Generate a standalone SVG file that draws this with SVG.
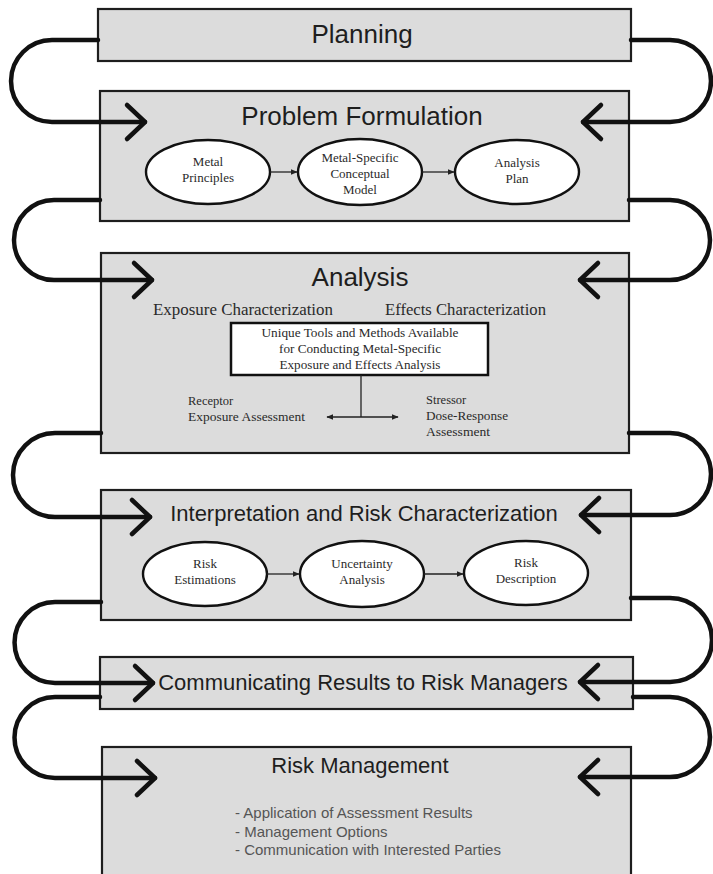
<svg xmlns="http://www.w3.org/2000/svg" width="713" height="874" viewBox="0 0 713 874">
<style>
.box{fill:#dcdcdc;stroke:#1e1e1e;stroke-width:2.2}
.title{font-family:"Liberation Sans",Arial,sans-serif;fill:#1e1e1e;text-anchor:middle}
.ser{font-family:"Liberation Serif","Times New Roman",serif;fill:#2a2a2a}
.ell{fill:#fff;stroke:#111;stroke-width:2.4}
.et{font-family:"Liberation Serif","Times New Roman",serif;font-size:13px;fill:#2a2a2a;text-anchor:middle}
.conn{fill:none;stroke:#111;stroke-width:4.5;stroke-linecap:round;stroke-linejoin:round}
.thin{fill:none;stroke:#222;stroke-width:1.3}
.bul{font-family:"Liberation Sans",Arial,sans-serif;font-size:15px;fill:#555}
</style>
<defs>
<marker id="ah" viewBox="0 0 10 10" refX="9" refY="5" markerWidth="7" markerHeight="7" markerUnits="userSpaceOnUse" orient="auto">
<path d="M0,1 L10,5 L0,9 z" fill="#222"/>
</marker>
</defs>
<rect width="713" height="874" fill="#fff"/>

<g id="planning">
<rect class="box" x="98" y="9" width="533" height="52"/>
<text class="title" x="362" y="43" font-size="26">Planning</text>
</g>

<g id="problem-formulation">
<rect class="box" x="100" y="91" width="529" height="130"/>
<text class="title" x="362" y="125" font-size="26">Problem Formulation</text>
<g id="metal-principles">
<ellipse class="ell" cx="208" cy="172" rx="62" ry="32"/>
<text class="et" x="208" y="166">Metal</text>
<text class="et" x="208" y="182">Principles</text>
</g>
<g id="conceptual-model">
<ellipse class="ell" cx="360" cy="172" rx="62" ry="33"/>
<text class="et" x="360" y="162">Metal-Specific</text>
<text class="et" x="360" y="178">Conceptual</text>
<text class="et" x="360" y="194">Model</text>
</g>
<g id="analysis-plan">
<ellipse class="ell" cx="517" cy="172" rx="62" ry="32"/>
<text class="et" x="517" y="167">Analysis</text>
<text class="et" x="517" y="183">Plan</text>
</g>
</g>

<g id="analysis">
<rect class="box" x="101" y="253" width="528" height="200"/>
<text class="title" x="360" y="286" font-size="26">Analysis</text>
<text class="ser" x="153" y="315" font-size="16" textLength="180" lengthAdjust="spacingAndGlyphs">Exposure Characterization</text>
<text class="ser" x="385" y="315" font-size="16" textLength="161" lengthAdjust="spacingAndGlyphs">Effects Characterization</text>
<g id="unique-tools">
<rect x="231" y="323" width="257" height="52" fill="#fff" stroke="#111" stroke-width="2.5"/>
<text class="ser" x="360" y="337" font-size="13" text-anchor="middle" textLength="197" lengthAdjust="spacingAndGlyphs">Unique Tools and Methods Available</text>
<text class="ser" x="360" y="353" font-size="13" text-anchor="middle" textLength="162" lengthAdjust="spacingAndGlyphs">for Conducting Metal-Specific</text>
<text class="ser" x="360" y="369" font-size="13" text-anchor="middle" textLength="161" lengthAdjust="spacingAndGlyphs">Exposure and Effects Analysis</text>
</g>
<text class="ser" x="188" y="405" font-size="12.5">Receptor</text>
<text class="ser" x="188" y="421" font-size="12.5" textLength="117" lengthAdjust="spacingAndGlyphs">Exposure Assessment</text>
<text class="ser" x="426" y="404" font-size="12.5">Stressor</text>
<text class="ser" x="426" y="420" font-size="12.5" textLength="82" lengthAdjust="spacingAndGlyphs">Dose-Response</text>
<text class="ser" x="426" y="436" font-size="12.5" textLength="64" lengthAdjust="spacingAndGlyphs">Assessment</text>
</g>

<g id="interpretation">
<rect class="box" x="101" y="490" width="530" height="130"/>
<text class="title" x="364" y="521" font-size="22">Interpretation and Risk Characterization</text>
<g id="risk-estimations">
<ellipse class="ell" cx="205" cy="574" rx="62" ry="32"/>
<text class="et" x="205" y="568">Risk</text>
<text class="et" x="205" y="584">Estimations</text>
</g>
<g id="uncertainty-analysis">
<ellipse class="ell" cx="362" cy="574" rx="62" ry="33"/>
<text class="et" x="362" y="568">Uncertainty</text>
<text class="et" x="362" y="584">Analysis</text>
</g>
<g id="risk-description">
<ellipse class="ell" cx="526" cy="573" rx="62" ry="32"/>
<text class="et" x="526" y="567">Risk</text>
<text class="et" x="526" y="583">Description</text>
</g>
</g>

<g id="communicating">
<rect class="box" x="100" y="657" width="533" height="52"/>
<text class="title" x="363" y="690" font-size="22">Communicating Results to Risk Managers</text>
</g>

<g id="risk-management">
<rect class="box" x="102" y="747" width="529" height="140"/>
<text class="title" x="360" y="773" font-size="22">Risk Management</text>
<text class="bul" x="235" y="818">- Application of Assessment Results</text>
<text class="bul" x="235" y="837">- Management Options</text>
<text class="bul" x="235" y="855">- Communication with Interested Parties</text>
</g>

<g id="connectors">
<!-- left loops -->
<path class="conn" d="M98 40 H52 A41 41 0 0 0 52 122 H145"/>
<path class="conn" d="M127 105 L145 122 L127 139"/>
<path class="conn" d="M100 200 H54 A40 40 0 0 0 54 280 H152"/>
<path class="conn" d="M134 263 L152 280 L134 297"/>
<path class="conn" d="M101 433 H55 A42 42 0 0 0 55 517 H150"/>
<path class="conn" d="M132 500 L150 517 L132 534"/>
<path class="conn" d="M101 602 H55 A40.5 40.5 0 0 0 55 683 H153"/>
<path class="conn" d="M135 666 L153 683 L135 700"/>
<path class="conn" d="M100 697 H55 A40.5 40.5 0 0 0 55 778 H155"/>
<path class="conn" d="M137 761 L155 778 L137 795"/>
<!-- right loops -->
<path class="conn" d="M631 40 H670 A41 41 0 0 1 670 122 H583"/>
<path class="conn" d="M601 105 L583 122 L601 139"/>
<path class="conn" d="M629 200 H670 A40 40 0 0 1 670 280 H580"/>
<path class="conn" d="M598 263 L580 280 L598 297"/>
<path class="conn" d="M629 433 H670 A41 41 0 0 1 670 515 H581"/>
<path class="conn" d="M599 498 L581 515 L599 532"/>
<path class="conn" d="M631 598 H670 A42 42 0 0 1 670 682 H580"/>
<path class="conn" d="M598 665 L580 682 L598 699"/>
<path class="conn" d="M633 697 H670 A40 40 0 0 1 670 777 H580"/>
<path class="conn" d="M598 760 L580 777 L598 794"/>
<!-- inner flow arrows -->
<path class="thin" d="M270 172 H297" marker-end="url(#ah)"/>
<path class="thin" d="M422 172 H454" marker-end="url(#ah)"/>
<path class="thin" d="M267 574 H299" marker-end="url(#ah)"/>
<path class="thin" d="M424 574 H463" marker-end="url(#ah)"/>
<path class="thin" d="M361 375 V417"/>
<path class="thin" d="M361 417 H327" marker-end="url(#ah)"/>
<path class="thin" d="M361 417 H398" marker-end="url(#ah)"/>
</g>
</svg>
